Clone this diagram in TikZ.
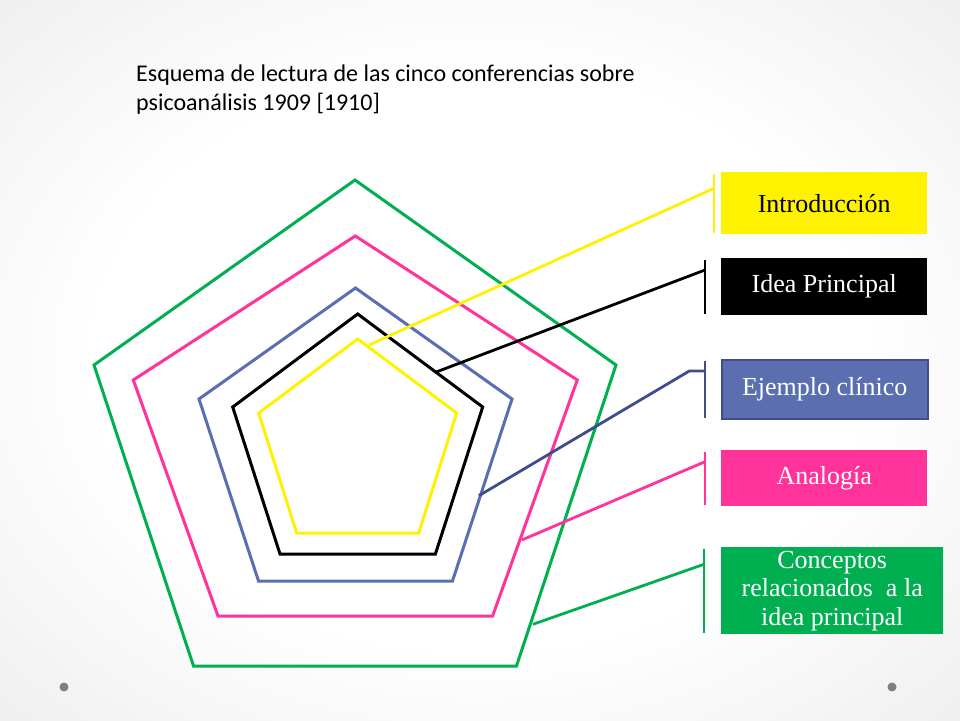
\documentclass[tikz,border=0pt]{standalone}
\usepackage{fontspec}
\setmainfont{Liberation Serif}
\newfontfamily\titlefont{Carlito}
\definecolor{cgreen}{HTML}{00B050}
\definecolor{cpink}{HTML}{FF3399}
\definecolor{cblue}{HTML}{5B6FB0}
\definecolor{cbluedark}{HTML}{3F4E8A}
\definecolor{cdot}{HTML}{808080}
\pgfdeclareradialshading{slidebg}{\pgfpoint{0bp}{0bp}}{color(0bp)=(white); color(20bp)=(white); color(50bp)=(black!12); color(71bp)=(black!27)}

\begin{document}
\begin{tikzpicture}[x=1pt, y=-1pt,
   pent/.style = {line width=3pt, line join=miter},
  mybox/.style = {rectangle, anchor=north west, inner sep=0pt, align=center,
        font=\fontsize{26}{28.5}\selectfont, minimum width=206pt},
    bar/.style = {line width=2.8pt, shorten <=1.5pt, shorten >=1.5pt},
   lead/.style = {line width=2.8pt}
                    ]
\shade[shading=slidebg] (0,0) rectangle (960,720);
\useasboundingbox (0,0) rectangle (960,720);
% the title
\node (title) [anchor=north west, inner sep=0pt, align=left,
    font=\titlefont\fontsize{24}{29}\selectfont] at (136,65)
        {Esquema de lectura de las cinco conferencias sobre\\
            psicoanálisis 1909 [1910]};
% the pentagons, outermost first
\foreach \col/\cx/\ty/\uy/\by/\hw/\bw in {cgreen/355/180/365/666/261/161.5,
        cpink/355.3/236/380/616/222/137.3,
        cblue/355.5/288/399/581/156.5/97,
        black/357.7/314/407/554/125/77.7,
        yellow/357.7/339/413/533/99/61}
    \draw[pent,\col] (\cx,\ty) -- (\cx+\hw,\uy) -- (\cx+\bw,\by)
        -- (\cx-\bw,\by) -- (\cx-\hw,\uy) -- cycle;
% the boxes on the right
\node (intro)   [mybox, fill=yellow, minimum height=62pt] at (721,172)
                {Introducción};
\node (idea)    [mybox, fill=black, text=white, minimum height=57pt] at (721,258)
                {Idea Principal};
\node (ejemplo) [mybox, fill=cblue, draw=cbluedark, line width=1.5pt,
                text=white, minimum height=59pt] at (721,359)
                {Ejemplo clínico};
\node (analog)  [mybox, fill=cpink, text=white, minimum height=56pt] at (721,450)
                {Analogía};
\node (concept) [mybox, fill=cgreen, text=white, minimum width=222pt,
                minimum height=87pt] at (721,547)
                {Conceptos\\ relacionados~ a la\\ idea principal};
% the accent bars
\draw[bar,yellow]    ([xshift=-7pt]intro.north west)    -- ([xshift=-7pt]intro.south west);
\draw[bar,black]     ([xshift=-16pt]idea.north west)    -- ([xshift=-16pt]idea.south west);
\draw[bar,cbluedark] ([xshift=-16pt]ejemplo.north west) -- ([xshift=-16pt]ejemplo.south west);
\draw[bar,cpink]     ([xshift=-16pt]analog.north west)  -- ([xshift=-16pt]analog.south west);
\draw[bar,cgreen]    ([xshift=-17pt]concept.north west) -- ([xshift=-17pt]concept.south west);
% where the leaders start and end
\coordinate (pintro)   at (369,345);
\coordinate (pidea)    at (435.4,372.3);
\coordinate (pejemplo) at (478.9,495.7);
\coordinate (panalog)  at (521.8,540);
\coordinate (pconcept) at (532.9,624.3);
\coordinate (bintro)   at (714,188.3);
\coordinate (bidea)    at (705,270);
\coordinate (bejemplo) at (705,371);
\coordinate (banalog)  at (705,461.7);
\coordinate (bconcept) at (704,564.3);
% the leaders
\draw[lead,yellow]    (pintro) -- (bintro);
\draw[lead,black]     (pidea) -- (bidea);
\draw[lead,cbluedark] (pejemplo) -- (689.3,371) -- (bejemplo);
\draw[lead,cpink]     (panalog) -- (banalog);
\draw[lead,cgreen]    (pconcept) -- (bconcept);
% the two dots at the bottom
\fill[cdot] (64,687) circle (4.5);
\fill[cdot] (892,687) circle (4.5);
\end{tikzpicture}
\end{document}
